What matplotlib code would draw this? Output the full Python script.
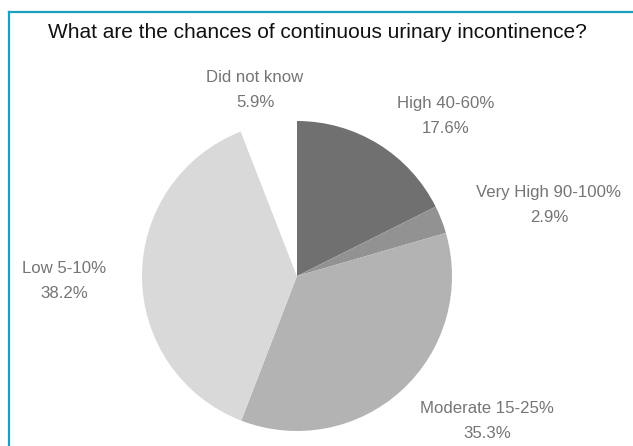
import matplotlib
matplotlib.use("Agg")
import matplotlib.pyplot as plt
from matplotlib.lines import Line2D

categories = ["High 40-60%", "Very High 90-100%", "Moderate 15-25%", "Low 5-10%", "Did not know"]
values = [17.6, 2.9, 35.3, 38.2, 5.9]
pct_labels = ["17.6%", "2.9%", "35.3%", "38.2%", "5.9%"]
colors = ["#707070", "#929292", "#b3b3b3", "#d9d9d9", "#ffffff"]
title = "What are the chances of continuous urinary incontinence?"

# label block centres in pixels (x from left, y from top)
label_pos = [(446, 116), (549, 205), (487, 421), (64, 281), (255, 90)]

W, H = 633, 446
fig = plt.figure(figsize=(W / 100, H / 100), dpi=100)
plt.rcParams['font.family'] = ['Liberation Sans', 'DejaVu Sans']

# pie axes: centre (297, 276), radius 155 px
cx, cy, r = 297, 276, 155
ax = fig.add_axes([(cx - r) / W, (H - cy - r) / H, 2 * r / W, 2 * r / H])
ax.pie(values, colors=colors, startangle=90, counterclock=False,
       wedgeprops=dict(linewidth=0), radius=1.0)
ax.set_xlim(-1, 1)
ax.set_ylim(-1, 1)
ax.set_aspect('equal')
ax.axis('off')

for cat, pct, (px, py) in zip(categories, pct_labels, label_pos):
    fig.text(px / W, 1 - py / H, f"{cat}\n{pct}", ha='center', va='center',
             fontsize=12.1, color='#757575', linespacing=1.9)

fig.text(48 / W, 1 - 33 / H, title, ha='left', va='center', fontsize=15, color='#111111')

# frame lines (top and left)
fig.add_artist(Line2D([9 / W, 1], [1 - 12 / H, 1 - 12 / H], transform=fig.transFigure,
                      color='#1a9fc0', linewidth=1.6))
fig.add_artist(Line2D([9 / W, 9 / W], [0, 1 - 12 / H], transform=fig.transFigure,
                      color='#1a9fc0', linewidth=1.6))

fig.savefig("out.png", dpi=100, facecolor='white')
